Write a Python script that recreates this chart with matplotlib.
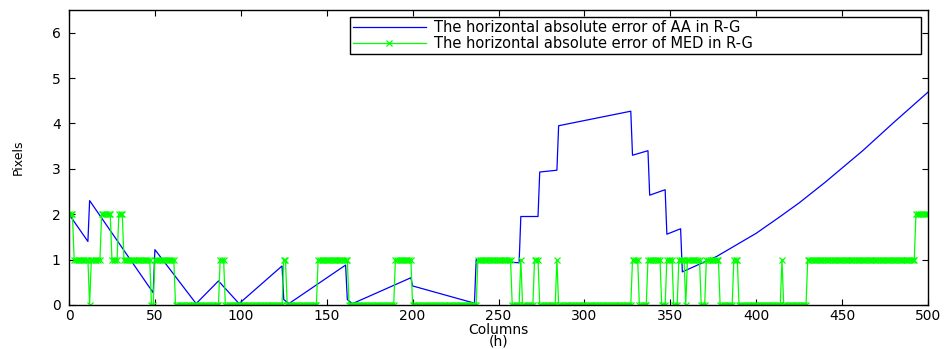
import numpy as np
import matplotlib.pyplot as plt

# horizontal absolute error of AA (blue), read as breakpoints
aa_x = [0, 11, 12, 49, 50, 74, 87, 99, 124, 125, 128, 161, 162, 165, 199, 200,
        236, 237, 262, 263, 273, 274, 284, 285, 327, 328, 337, 338, 347, 348,
        356, 357, 377, 400, 414, 425, 440, 462, 480, 500]
aa_y = [2.0, 1.40, 2.30, 0.27, 1.22, 0.03, 0.53, 0.03, 0.86, 0.12, 0.03, 0.88,
        0.12, 0.03, 0.60, 0.42, 0.04, 1.00, 0.93, 1.95, 1.95, 2.93, 2.97, 3.95,
        4.27, 3.30, 3.40, 2.42, 2.54, 1.56, 1.68, 0.73, 1.07, 1.58, 1.95, 2.25,
        2.70, 3.40, 4.02, 4.69]

# horizontal absolute error of MED (green): runs (first col, last col, value), rest is 0
med_runs = [(0, 2, 2), (3, 11, 1), (13, 18, 1), (19, 24, 2), (25, 28, 1),
            (29, 31, 2), (32, 47, 1), (50, 61, 1), (88, 90, 1), (125, 126, 1),
            (145, 162, 1), (190, 199, 1), (238, 257, 1), (263, 263, 1),
            (271, 273, 1), (284, 284, 1), (328, 331, 1), (337, 344, 1),
            (348, 351, 1), (355, 358, 1), (360, 367, 1), (371, 378, 1),
            (387, 389, 1), (415, 415, 1), (430, 492, 1), (493, 500, 2)]

cols = np.arange(0, 501)
med_y = np.zeros(len(cols))
for s, e, v in med_runs:
    med_y[s:e + 1] = v

fig = plt.figure(figsize=(9.48, 3.49), dpi=100)
ax = fig.add_axes([69 / 948, 1 - 305 / 349, (928 - 69) / 948, (305 - 10) / 349])

ax.plot(aa_x, aa_y, color='b', lw=0.9,
        label='The horizontal absolute error of AA in R-G')
ax.plot(cols, med_y, color=(0, 1, 0), lw=0.9, marker='x', ms=5, mew=0.9,
        label='The horizontal absolute error of MED in R-G')

ax.set_xlim(0, 500)
ax.set_ylim(0, 6.5)
ax.set_xticks(range(0, 501, 50))
ax.set_yticks(range(0, 7))
ax.tick_params(direction='in', top=True, right=True, length=4, width=0.8,
               labelsize=10)
ax.tick_params(axis='x', pad=3)
ax.tick_params(axis='y', pad=6)
for sp in ax.spines.values():
    sp.set_linewidth(1.0)

ax.set_xlabel('Columns\n(h)', fontsize=10, labelpad=0, linespacing=0.78)
ax.set_ylabel('Pixels', fontsize=9)
ax.yaxis.set_label_coords(-0.052, 0.5)

leg = ax.legend(loc='upper left', bbox_to_anchor=(0.327, 0.854, 0.665, 0.122),
                mode='expand', borderaxespad=0, fontsize=10.5, numpoints=1,
                handlelength=5.0, handletextpad=0.6, borderpad=0.2,
                labelspacing=0.05, fancybox=False, framealpha=1)
leg.get_frame().set_edgecolor('black')
leg.get_frame().set_linewidth(1.0)

fig.savefig('out.png', dpi=100)
